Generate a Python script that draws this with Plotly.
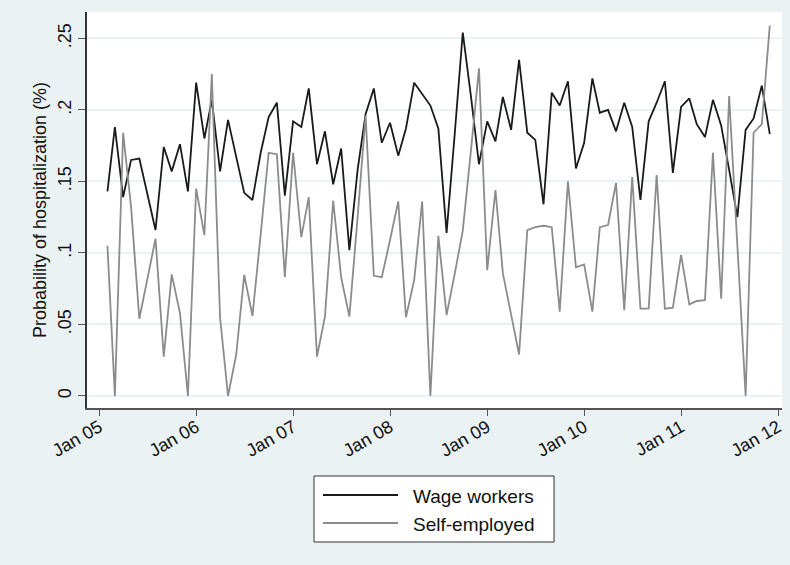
import pandas as pd
import plotly.graph_objects as go

# Monthly observations, Feb 2005 .. Dec 2011
months = pd.date_range("2005-02-01", periods=83, freq="MS")

wage_workers = [
    0.143, 0.188, 0.139, 0.165, 0.166, 0.142, 0.116, 0.174, 0.157, 0.176,
    0.143, 0.219, 0.180, 0.207, 0.157, 0.193, 0.167, 0.142, 0.137, 0.170,
    0.195, 0.205, 0.140, 0.192, 0.188, 0.215, 0.162, 0.185, 0.148, 0.173,
    0.102, 0.158, 0.197, 0.215, 0.177, 0.191, 0.168, 0.187, 0.219, 0.211,
    0.203, 0.187, 0.114, 0.184, 0.254, 0.209, 0.162, 0.192, 0.178, 0.209,
    0.186, 0.235, 0.184, 0.179, 0.134, 0.212, 0.203, 0.220, 0.159, 0.177,
    0.222, 0.198, 0.200, 0.185, 0.205, 0.188, 0.137, 0.192, 0.205, 0.220,
    0.156, 0.202, 0.208, 0.190, 0.181, 0.207, 0.189, 0.158, 0.125, 0.186,
    0.194, 0.217, 0.183,
]

self_employed = [
    0.105, 0.000, 0.184, 0.132, 0.054, 0.082, 0.110, 0.0275, 0.085, 0.058,
    0.000, 0.145, 0.1125, 0.225, 0.055, 0.000, 0.029, 0.0846, 0.056, 0.113,
    0.170, 0.169, 0.083, 0.170, 0.111, 0.139, 0.0275, 0.0555, 0.1365, 0.083,
    0.0555, 0.125, 0.196, 0.084, 0.083, 0.109, 0.136, 0.055, 0.081, 0.136,
    0.000, 0.112, 0.0566, 0.0857, 0.1156, 0.172, 0.229, 0.088, 0.144, 0.0857,
    0.058, 0.029, 0.116, 0.118, 0.119, 0.118, 0.059, 0.150, 0.090, 0.092,
    0.059, 0.118, 0.1195, 0.149, 0.060, 0.153, 0.061, 0.061, 0.1545, 0.061,
    0.0617, 0.0986, 0.064, 0.0664, 0.067, 0.170, 0.068, 0.2097, 0.105, 0.000,
    0.184, 0.190, 0.259,
]

series_names = ["Wage workers", "Self-employed"]
series_colors = ["#1a1a1a", "#8c8c8c"]

x_tick_dates = ["2005-01-01", "2006-01-01", "2007-01-01", "2008-01-01",
                "2009-01-01", "2010-01-01", "2011-01-01", "2012-01-01"]
x_tick_labels = ["Jan 05", "Jan 06", "Jan 07", "Jan 08",
                 "Jan 09", "Jan 10", "Jan 11", "Jan 12"]
y_tick_values = [0, 0.05, 0.1, 0.15, 0.2, 0.25]
y_tick_labels = ["0", ".05", ".1", ".15", ".2", ".25"]

FONT = "Liberation Sans, Arial, Helvetica, sans-serif"
BG = "#EAF2F3"

fig = go.Figure()
for name, vals, col in zip(series_names, [wage_workers, self_employed], series_colors):
    fig.add_trace(go.Scatter(x=months, y=vals, mode="lines", name=name,
                             line=dict(color=col, width=1.8)))

# Legend box drawn below the plot (paper coordinates)
box_x0, box_x1, box_y0, box_y1 = 0.3266, 0.672, -0.3384, -0.1717
line_x0, line_x1, text_x = 0.3396, 0.4475, 0.4662
row_y = [-0.2197, -0.2904]

shapes = [dict(type="rect", xref="paper", yref="paper",
               x0=box_x0, x1=box_x1, y0=box_y0, y1=box_y1,
               line=dict(color="#333333", width=1), fillcolor="white",
               layer="below")]
annotations = []
for name, col, ry in zip(series_names, series_colors, row_y):
    shapes.append(dict(type="line", xref="paper", yref="paper",
                       x0=line_x0, x1=line_x1, y0=ry, y1=ry,
                       line=dict(color=col, width=1.8)))
    annotations.append(dict(xref="paper", yref="paper", x=text_x, y=ry - 0.004,
                            text=name, showarrow=False, xanchor="left",
                            yanchor="middle",
                            font=dict(size=19, color="#111111")))

fig.update_layout(
    width=790, height=565,
    paper_bgcolor=BG, plot_bgcolor="white",
    margin=dict(l=87, r=8, t=12, b=157, autoexpand=False),
    font=dict(family=FONT, size=18, color="#111111"),
    showlegend=False,
    shapes=shapes, annotations=annotations,
)

fig.update_xaxes(
    type="date",
    range=["2004-11-16", "2012-01-16"],
    tickvals=x_tick_dates, ticktext=x_tick_labels,
    tickangle=-30, ticks="outside", ticklen=6, tickcolor="#555555",
    ticklabelstandoff=-6,
    showline=True, linecolor="#555555", linewidth=1.5,
    showgrid=False, zeroline=False,
    tickfont=dict(size=18),
)
fig.update_yaxes(
    range=[-0.0084, 0.2684],
    tickvals=y_tick_values, ticktext=y_tick_labels,
    tickangle=-90, ticks="outside", ticklen=7, tickcolor="#555555",
    showline=True, linecolor="#333333", linewidth=1.5,
    showgrid=True, gridcolor="#EAF2F3", gridwidth=1.5,
    zeroline=False,
    tickfont=dict(size=18),
    title=dict(text="Probability of hospitalization (%)", font=dict(size=18),
               standoff=4),
)

fig.write_html("out.html",
               config={"displayModeBar": False},
               post_script="document.body.style.margin='0px';"
                           "document.body.style.background='" + BG + "';")
